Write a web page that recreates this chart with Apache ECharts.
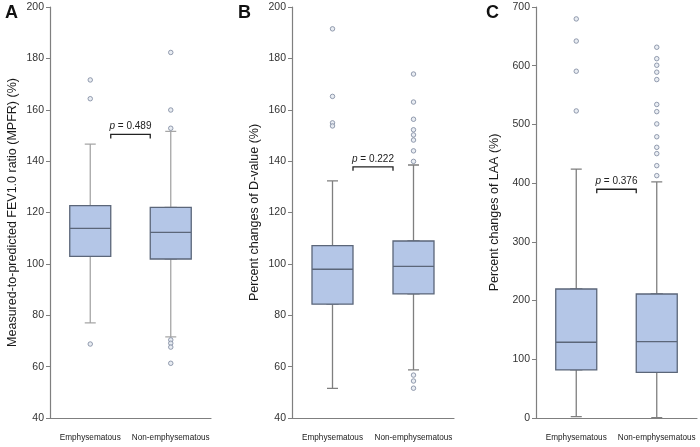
<!DOCTYPE html>
<html>
<head>
<meta charset="utf-8">
<script src="https://cdn.jsdelivr.net/npm/echarts@6/dist/echarts.min.js"></script>
<style>
  html, body { margin: 0; padding: 0; background: #fff; }
  #chart { width: 700px; height: 447px; }
</style>
</head>
<body>
<div id="chart"></div>
<script>
var groups = ['Emphysematous', 'Non-emphysematous'];

// box values: [lower whisker, Q1, median, Q3, upper whisker]
var mpfrBoxes = [[77.0, 102.9, 113.8, 122.7, 146.6], [71.6, 101.9, 112.3, 122.0, 151.6]];
var mpfrOutliers = [[0, 171.6], [0, 164.3], [0, 68.8],
  [1, 182.3], [1, 159.9], [1, 152.8], [1, 70.4], [1, 69.1], [1, 67.6], [1, 61.3]];

var dvalBoxes = [[51.5, 84.3, 97.9, 107.1, 132.3], [58.7, 88.3, 99.0, 108.9, 138.5]];
var dvalOutliers = [[0, 191.5], [0, 165.2], [0, 154.9], [0, 153.7],
  [1, 173.9], [1, 163.0], [1, 156.3], [1, 152.2], [1, 150.2], [1, 148.2], [1, 144.0], [1, 139.9],
  [1, 56.7], [1, 54.4], [1, 51.6]];

var laaBoxes = [[2.3, 81.8, 129.0, 219.7, 424.0], [0.6, 77.8, 130.0, 211.2, 402.0]];
var laaOutliers = [[0, 679.7], [0, 642.0], [0, 590.6], [0, 523.0],
  [1, 631.5], [1, 612.0], [1, 600.8], [1, 589.0], [1, 576.4], [1, 534.0], [1, 521.8],
  [1, 500.9], [1, 479.0], [1, 461.0], [1, 450.3], [1, 429.8], [1, 412.8]];

var pValues = ['0.489', '0.222', '0.376'];
var bracketLevels = [150.4, 137.8, 389.6];

var panelLetters = ['A', 'B', 'C'];
var yNames = ['Measured-to-predicted FEV1.0 ratio (MPFR) (%)', 'Percent changes of D-value (%)', 'Percent changes of LAA (%)'];
var yRanges = [[40, 200, 20], [40, 200, 20], [0, 700, 100]];

var panels = [
  { boxes: mpfrBoxes, outliers: mpfrOutliers, whisker: '#a6a6a6', left: 50, width: 161, gap: 31 },
  { boxes: dvalBoxes, outliers: dvalOutliers, whisker: '#7f7f7f', left: 292, width: 162, gap: 31 },
  { boxes: laaBoxes, outliers: laaOutliers, whisker: '#7f7f7f', left: 536, width: 161, gap: 35 }
];

var FONT = '"Liberation Sans", Arial, sans-serif';

function bracket(pText) {
  return function (params, api) {
    var a = api.coord([api.value(0), api.value(2)]);
    var b = api.coord([api.value(1), api.value(2)]);
    var half = 20.5, drop = 4;
    var x0 = a[0] + half, x1 = b[0] - half, y = a[1];
    return {
      type: 'group',
      children: [
        {
          type: 'polyline',
          shape: { points: [[x0, y + drop], [x0, y], [x1, y], [x1, y + drop]] },
          style: { stroke: '#222', lineWidth: 1.3, fill: null }
        },
        {
          type: 'text',
          x: (x0 + x1) / 2,
          y: y - 8,
          style: {
            text: '{i|p} = ' + pText,
            rich: { i: { fontStyle: 'italic', fontSize: 10, fontFamily: FONT, fill: '#222' } },
            fontSize: 10,
            fontFamily: FONT,
            fill: '#222',
            align: 'center',
            verticalAlign: 'middle'
          }
        }
      ]
    };
  };
}

var grid = [], xAxis = [], yAxis = [], series = [], title = [];
var letterLeft = [5, 238, 486];

panels.forEach(function (p, i) {
  grid.push({ left: p.left, width: p.width, top: 7, bottom: 29 });
  title.push({
    text: panelLetters[i], left: letterLeft[i], top: 4, padding: 0,
    textStyle: { fontSize: 18, fontWeight: 'bold', fontFamily: FONT, color: '#111' }
  });
  xAxis.push({
    type: 'category', data: groups, gridIndex: i,
    axisLine: { lineStyle: { color: '#7f7f7f', width: 1.2 } },
    axisTick: { show: false },
    axisLabel: { interval: 0, fontSize: 8.2, color: '#222', margin: 16, fontFamily: FONT }
  });
  xAxis.push({ type: 'category', data: groups, gridIndex: i, show: false });
  yAxis.push({
    type: 'value', gridIndex: i,
    min: yRanges[i][0], max: yRanges[i][1], interval: yRanges[i][2],
    name: yNames[i], nameLocation: 'middle', nameGap: p.gap,
    nameTextStyle: { fontSize: 12.5, color: '#1a1a1a', fontFamily: FONT },
    axisLine: { show: true, lineStyle: { color: '#7f7f7f', width: 1.2 } },
    axisTick: { show: true, length: 4, lineStyle: { color: '#7f7f7f' } },
    axisLabel: { fontSize: 10.5, color: '#333', margin: 6, fontFamily: FONT },
    splitLine: { show: false }
  });

  // whiskers (narrow caps)
  series.push({
    type: 'boxplot', xAxisIndex: 2 * i, yAxisIndex: i,
    data: p.boxes, boxWidth: [11, 11], z: 2, silent: true,
    itemStyle: { color: '#fff', borderColor: p.whisker, borderWidth: 1.3 }
  });
  // boxes: whiskers collapsed onto the box edges
  series.push({
    type: 'boxplot', xAxisIndex: 2 * i + 1, yAxisIndex: i,
    data: p.boxes.map(function (b) { return [b[1], b[1], b[2], b[3], b[3]]; }),
    boxWidth: [41, 41], z: 3, silent: true,
    itemStyle: { color: '#b4c6e7', borderColor: '#5b6679', borderWidth: 1.3 }
  });
  series.push({
    type: 'scatter', xAxisIndex: 2 * i, yAxisIndex: i,
    data: p.outliers, symbol: 'circle', symbolSize: 4.5, z: 4, silent: true,
    itemStyle: { color: '#e4e8f0', borderColor: '#7b869c', borderWidth: 1 }
  });
  series.push({
    type: 'custom', xAxisIndex: 2 * i, yAxisIndex: i, z: 5, silent: true,
    data: [[0, 1, bracketLevels[i]]],
    renderItem: bracket(pValues[i])
  });
});

var chart = echarts.init(document.getElementById('chart'));
chart.setOption({
  animation: false,
  backgroundColor: '#fff',
  title: title,
  grid: grid,
  xAxis: xAxis,
  yAxis: yAxis,
  series: series
});
</script>
</body>
</html>
